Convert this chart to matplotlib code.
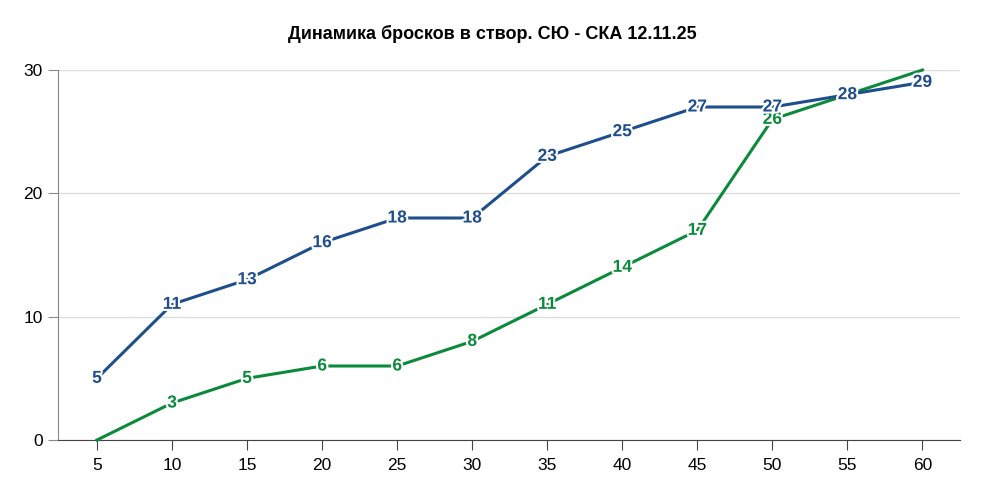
import matplotlib
matplotlib.use("Agg")
import matplotlib.pyplot as plt
import matplotlib.patheffects as pe

plt.rcParams['font.family'] = ['Liberation Sans', 'DejaVu Sans']

minutes = [5, 10, 15, 20, 25, 30, 35, 40, 45, 50, 55, 60]
syu = [5, 11, 13, 16, 18, 18, 23, 25, 27, 27, 28, 29]
ska = [0, 3, 5, 6, 6, 8, 11, 14, 17, 26, 28, 30]
title = "Динамика бросков в створ. СЮ - СКА 12.11.25"
blue = "#1f4e8c"
green = "#0a8a3a"

fig = plt.figure(figsize=(9.84, 4.92), dpi=100)
ax = fig.add_axes([58/984, 52/492, (960-58)/984, (440-70)/492])
ax.set_xlim(2.4, 62.5)
ax.set_ylim(0, 30)

ax.plot(minutes, ska, color=green, lw=2.2, zorder=3, clip_on=False)
ax.plot(minutes, syu, color=blue, lw=2.2, zorder=4, clip_on=False)

stroke = [pe.withStroke(linewidth=3, foreground="white")]
for x, y in zip(minutes, ska):
    if 0 < y < 30:
        ax.text(x, y, str(y), color=green, ha="center", va="center", fontsize=12.5,
                fontweight="bold", path_effects=stroke, zorder=5)
for x, y in zip(minutes, syu):
    if 0 < y < 30:
        ax.text(x, y, str(y), color=blue, ha="center", va="center", fontsize=12.5,
                fontweight="bold", path_effects=stroke, zorder=6)

ax.set_xticks(minutes)
ax.set_yticks([0, 10, 20, 30])
ax.grid(axis="y", color="#dddddd", lw=1)
ax.set_axisbelow(True)
for s in ["top", "right"]:
    ax.spines[s].set_visible(False)
ax.spines["left"].set_color("#888888")
ax.spines["bottom"].set_color("#444444")
ax.tick_params(axis="x", length=7, color="#444444", labelsize=12.5, pad=6)
ax.tick_params(axis="y", length=7, color="#888888", labelsize=12.5, pad=4)

fig.text(0.5, 1 - 34/492, title, ha="center", va="center", fontsize=13, fontweight="bold")

fig.savefig("out.png", dpi=100)
